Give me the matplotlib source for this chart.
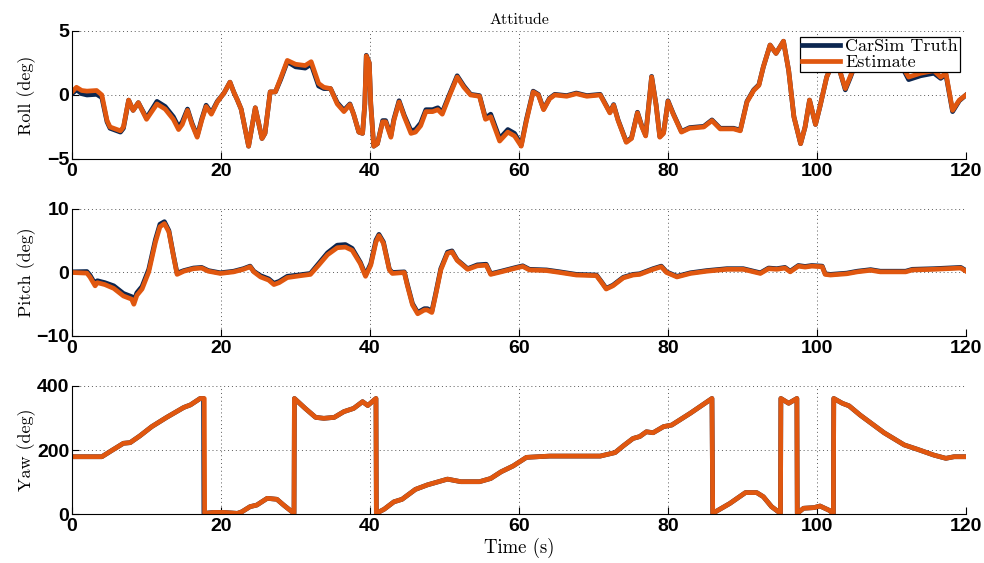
import matplotlib
matplotlib.use('Agg')
import matplotlib.pyplot as plt

# Attitude: roll / pitch / yaw, CarSim truth vs. estimate

TRUTH_COLOR = '#0b2650'
EST_COLOR = '#e0570f'

# Roll (deg)
roll_t = [0, 0.6, 1.3, 2.0, 3.3, 4.0, 4.7, 5.1, 6.5, 6.9, 7.6, 8.2, 8.9, 10.0, 11.4,
          12.5, 13.6, 14.3, 14.8, 15.5, 16.1, 16.8, 17.4, 18.0, 18.7, 19.5, 20.4,
          21.2, 21.7, 22.2, 22.7, 23.7, 24.6, 25.5, 25.9, 26.6, 27.3, 28.0, 28.9,
          30.0, 31.3, 32.1, 33.1, 33.8, 34.7, 35.6, 36.5, 37.3, 37.8, 38.5, 39.0,
          39.3, 39.5, 39.9, 40.1, 40.5, 41.0, 41.7, 42.1, 42.8, 43.2, 43.9, 44.6,
          45.5, 46.1, 46.8, 47.5, 48.4, 49.1, 49.7, 50.6, 51.7, 52.6, 53.5, 54.7,
          55.5, 56.2, 57.4, 58.5, 59.4, 60.3, 61.0, 61.9, 62.6, 63.3, 64.1, 64.8,
          66.4, 67.7, 69.1, 70.9, 72.2, 72.7, 73.3, 74.4, 75.1, 75.9, 76.5, 77.0,
          77.8, 78.4, 78.9, 79.4, 80.0, 80.7, 81.8, 82.9, 84.8, 85.9, 87.0, 88.8,
          89.7, 90.6, 91.5, 92.2, 92.8, 93.7, 94.5, 95.5, 96.2, 96.9, 97.8, 98.4,
          99.0, 99.8, 100.4, 101.3, 102.2, 103.0, 103.8, 104.5, 105.5, 107.0,
          108.5, 110.0, 111.5, 112.3, 113.9, 115.7, 116.6, 117.3, 118.2, 119.1, 120.0]
roll_est = [0.24, 0.6, 0.35, 0.3, 0.35, 0.0, -2.0, -2.5, -2.8, -2.5, -0.4, -1.2, -0.6,
            -1.9, -0.7, -1.1, -1.9, -2.7, -2.3, -1.2, -2.3, -3.3, -2.0, -0.9, -1.5,
            -0.55, 0.15, 1.0, 0.24, -0.4, -1.1, -4.0, -1.0, -3.4, -3.0, 0.24, 0.24,
            1.3, 2.7, 2.4, 2.3, 2.6, 0.9, 0.6, 0.5, -0.7, -1.3, -0.75, -1.5, -2.9,
            -3.0, -0.7, 3.05, 2.5, -0.7, -4.0, -3.8, -2.1, -2.1, -3.3, -2.0, -0.55,
            -1.7, -3.0, -2.9, -2.4, -1.3, -1.3, -1.15, -1.5, -0.15, 1.4, 0.6, 0.0,
            -0.1, -1.9, -1.7, -3.6, -2.9, -3.2, -4.0, -2.0, 0.24, 0.0, -1.15, -0.3,
            0.0, -0.1, 0.1, -0.1, 0.0, -1.4, -0.8, -2.0, -3.7, -3.4, -1.4, -2.5,
            -3.2, 1.4, -0.8, -3.3, -3.0, -0.5, -1.5, -2.9, -2.6, -2.5, -2.0, -2.65,
            -2.65, -2.8, -0.55, 0.35, 0.75, 2.2, 3.9, 3.25, 4.2, 1.9, -1.7, -3.8,
            -2.5, -0.4, -2.3, -0.9, 1.4, 2.6, 2.0, 0.5, 1.5, 3.0, 3.3, 2.6, 3.0, 2.2,
            1.4, 1.7, 1.9, 1.4, 1.7, -1.2, -0.4, 0.0]
roll_truth = [0.1, 0.4, 0.1, 0.0, 0.05, -0.2, -2.1, -2.6, -2.9, -2.6, -0.4, -1.2, -0.6,
              -1.8, -0.5, -0.9, -1.7, -2.5, -2.1, -1.1, -2.2, -3.2, -1.9, -0.8, -1.4,
              -0.5, 0.15, 1.0, 0.24, -0.4, -1.1, -4.0, -1.0, -3.4, -3.0, 0.24, 0.24,
              1.2, 2.6, 2.2, 2.1, 2.4, 0.7, 0.5, 0.5, -0.6, -1.2, -0.7, -1.5, -2.9,
              -3.0, -0.7, 3.1, 2.5, -0.7, -4.0, -3.8, -2.0, -2.0, -3.2, -1.9, -0.45,
              -1.6, -2.8, -2.7, -2.2, -1.15, -1.15, -1.0, -1.35, -0.05, 1.5, 0.7, 0.05,
              -0.05, -1.8, -1.5, -3.4, -2.7, -3.0, -3.9, -1.9, 0.3, 0.05, -1.1, -0.25,
              0.05, -0.05, 0.15, -0.05, 0.05, -1.35, -0.75, -1.95, -3.65, -3.35, -1.35,
              -2.45, -3.15, 1.45, -0.75, -3.25, -2.95, -0.45, -1.45, -2.85, -2.55,
              -2.45, -1.95, -2.6, -2.6, -2.75, -0.5, 0.4, 0.8, 2.2, 3.9, 3.25, 4.2,
              1.9, -1.7, -3.8, -2.5, -0.4, -2.3, -0.9, 1.4, 2.6, 2.0, 0.4, 1.4, 3.0,
              3.3, 2.6, 3.0, 2.1, 1.2, 1.5, 1.7, 1.3, 1.6, -1.3, -0.45, 0.0]

# Pitch (deg)
pitch_t = [0, 2.0, 2.4, 3.1, 3.4, 4.4, 5.6, 6.9, 8.0, 8.3, 8.7, 9.4, 10.3, 11.2, 11.8,
           12.4, 13.0, 13.6, 14.1, 15.0, 16.3, 17.4, 18.3, 19.9, 21.7, 23.0, 23.9,
           24.4, 25.3, 26.4, 27.1, 27.8, 28.9, 30.7, 32.0, 33.1, 34.3, 35.6, 36.7,
           37.6, 38.7, 39.4, 40.1, 40.8, 41.2, 41.8, 42.6, 43.0, 44.6, 45.0, 45.7,
           46.4, 47.3, 47.7, 48.3, 48.8, 49.5, 50.4, 51.0, 51.7, 53.1, 54.4, 55.6,
           56.2, 57.6, 59.6, 60.5, 61.4, 63.7, 65.5, 67.7, 70.4, 71.1, 71.7, 72.6,
           74.0, 75.3, 76.2, 78.0, 79.1, 79.8, 81.2, 83.0, 85.2, 87.9, 90.1, 91.5,
           92.4, 93.5, 94.6, 95.7, 96.4, 97.5, 98.4, 99.3, 100.7, 101.1, 101.8,
           104.0, 105.4, 107.2, 108.5, 111.9, 112.8, 115.7, 119.3, 120.0]
pitch_est = [0.0, -0.1, -0.7, -2.1, -1.6, -1.9, -2.5, -3.7, -4.2, -5.0, -3.6, -2.6, 0.1,
             4.8, 7.2, 7.7, 6.4, 2.7, -0.3, 0.2, 0.6, 0.7, 0.2, -0.15, 0.1, 0.5, 0.9,
             0.1, -0.7, -1.2, -1.9, -1.6, -0.8, -0.5, -0.3, 1.15, 2.8, 3.9, 4.0, 3.5,
             1.4, -0.6, 1.15, 4.8, 5.8, 4.6, 0.4, -0.15, 0.0, -2.0, -5.1, -6.5, -5.9,
             -5.9, -6.3, -3.6, 0.4, 3.0, 3.25, 1.9, 0.5, 1.05, 1.15, -0.3, 0.1, 0.7,
             0.95, 0.4, 0.3, 0.0, -0.4, -0.5, -1.6, -2.6, -2.1, -0.85, -0.4, -0.3, 0.5,
             0.9, 0.0, -0.7, -0.15, 0.2, 0.5, 0.5, 0.1, -0.15, 0.6, 0.5, 0.7, 0.1, 1.0,
             0.85, 1.0, 0.9, -0.3, -0.4, -0.2, 0.1, 0.35, 0.1, 0.1, 0.4, 0.5, 0.7, 0.2]
pitch_truth = [0.1, 0.15, -0.4, -1.8, -1.3, -1.6, -2.1, -3.3, -3.8, -4.5, -3.2, -2.2, 0.5,
               5.2, 7.6, 8.0, 6.6, 2.8, -0.1, 0.3, 0.7, 0.8, 0.3, -0.05, 0.2, 0.6, 1.0,
               0.2, -0.5, -1.0, -1.7, -1.4, -0.6, -0.35, -0.15, 1.4, 3.1, 4.3, 4.4, 3.8,
               1.6, -0.4, 1.4, 5.1, 6.0, 4.8, 0.5, 0.0, 0.1, -1.8, -4.9, -6.3, -5.7,
               -5.7, -6.1, -3.4, 0.6, 3.2, 3.4, 2.0, 0.6, 1.2, 1.3, -0.2, 0.2, 0.8,
               1.05, 0.5, 0.4, 0.1, -0.3, -0.4, -1.5, -2.5, -2.0, -0.75, -0.3, -0.2,
               0.6, 1.0, 0.1, -0.6, -0.05, 0.3, 0.6, 0.6, 0.2, -0.05, 0.7, 0.6, 0.8,
               0.2, 1.1, 0.95, 1.1, 1.0, -0.2, -0.3, -0.1, 0.2, 0.45, 0.2, 0.2, 0.5,
               0.6, 0.8, 0.3]

# Yaw (deg), wrapped to [0, 360)
yaw_t = [0, 4.0, 5.3, 6.9, 7.8, 9.1, 10.7, 12.7, 15.0, 15.9, 17.2, 17.75, 17.8, 19.0,
         20.4, 22.2, 22.8, 23.9, 24.8, 26.2, 27.5, 28.4, 29.8, 29.85, 31.3, 32.7,
         33.8, 35.2, 36.5, 37.8, 39.0, 39.7, 40.8, 40.85, 41.9, 43.2, 44.3, 46.1,
         47.7, 50.4, 52.2, 54.7, 56.2, 57.6, 59.2, 61.0, 64.1, 70.9, 72.9, 74.0,
         75.3, 76.2, 77.1, 78.0, 79.4, 80.5, 83.0, 85.9, 86.0, 88.3, 90.4, 91.9,
         92.8, 93.9, 95.1, 95.15, 96.2, 97.3, 97.35, 98.2, 99.6, 100.4, 101.6,
         102.2, 102.25, 103.4, 104.3, 105.8, 109.0, 111.7, 113.5, 115.7, 117.3,
         118.4, 120.0]
yaw_est = [179, 179, 198, 221, 223, 244, 273, 302, 333, 341, 361, 361, 2, 5, 5, 2, 7,
           23, 28, 49, 46, 28, 2, 361, 330, 302, 299, 302, 320, 330, 351, 339, 361,
           2, 15, 38, 46, 77, 91, 109, 101, 101, 111, 132, 150, 177, 181, 181, 192,
           213, 236, 242, 257, 254, 273, 278, 315, 361, 2, 33, 67, 67, 54, 23, 2, 361,
           346, 361, 2, 18, 20, 25, 12, 2, 361, 346, 338, 309, 254, 216, 202, 184,
           174, 179, 179]
yaw_truth_t = [0, 4.0, 5.3, 6.9, 7.8, 9.1, 10.7, 12.7, 15.0, 15.9, 17.2, 17.65, 17.7,
               19.0, 20.4, 22.2, 22.8, 23.9, 24.8, 26.2, 27.5, 28.4, 29.8, 29.85, 31.3,
               32.7, 33.8, 35.2, 36.5, 37.8, 39.0, 39.7, 40.8, 40.85, 41.9, 43.2, 44.3,
               46.1, 47.7, 50.4, 52.2, 54.7, 56.2, 57.6, 59.2, 61.0, 64.1, 70.9, 72.9,
               74.0, 75.3, 76.2, 77.1, 78.0, 79.4, 80.5, 83.0, 85.9, 86.0, 88.3, 90.4,
               91.9, 92.8, 93.9, 95.1, 95.15, 96.2, 97.3, 97.35, 98.2, 99.6, 100.4,
               101.6, 102.2, 102.25, 103.4, 104.3, 105.8, 109.0, 111.7, 113.5, 115.7,
               117.3, 118.4, 120.0]
yaw_truth = [179, 179, 198, 221, 223, 244, 273, 302, 333, 341, 361, 361, 2, 5, 5, 2, 7,
             23, 28, 49, 46, 28, 2, 361, 330, 302, 299, 302, 320, 330, 351, 339, 361,
             2, 15, 38, 46, 77, 91, 109, 101, 101, 111, 132, 150, 177, 181, 181, 192,
             213, 236, 242, 257, 254, 273, 278, 315, 361, 2, 33, 67, 67, 54, 23, 2, 361,
             346, 361, 2, 18, 20, 25, 12, 2, 361, 346, 338, 309, 254, 216, 202, 184,
             174, 179, 179]

x_ticks = [0, 20, 40, 60, 80, 100, 120]

LABEL_FONT = 'cmr10'
LW = 3.4

# bold sans for the tick numbers, serif for the text labels
plt.rcParams['font.family'] = 'Liberation Sans'
plt.rcParams['font.weight'] = 'bold'
plt.rcParams['font.size'] = 14

fig = plt.figure(figsize=(9.84, 5.63), dpi=100)
ax_roll = fig.add_axes([0.0732, 0.7176, 0.9085, 0.2274])
ax_pitch = fig.add_axes([0.0732, 0.4032, 0.9085, 0.2256])
ax_yaw = fig.add_axes([0.0732, 0.0870, 0.9085, 0.2274])

panels = [
    (ax_roll, roll_t, roll_truth, roll_t, roll_est, (-5, 5), [-5, 0, 5], 'Roll (deg)'),
    (ax_pitch, pitch_t, pitch_truth, pitch_t, pitch_est, (-10, 10), [-10, 0, 10], 'Pitch (deg)'),
    (ax_yaw, yaw_truth_t, yaw_truth, yaw_t, yaw_est, (0, 400), [0, 200, 400], 'Yaw (deg)'),
]

for ax, tt, truth, te, est, ylim, yticks, ylabel in panels:
    ax.plot(tt, truth, color=TRUTH_COLOR, lw=LW, solid_joinstyle='round',
            label='CarSim Truth')
    ax.plot(te, est, color=EST_COLOR, lw=LW, solid_joinstyle='round',
            label='Estimate')
    ax.set_xlim(0, 120)
    ax.set_ylim(*ylim)
    ax.set_xticks(x_ticks)
    ax.set_yticks(yticks)
    ax.grid(True, linestyle=(0, (1, 3)), color='0.35', lw=0.7)
    ax.spines['top'].set_visible(False)
    ax.spines['right'].set_visible(False)
    ax.tick_params(direction='in', length=5, width=0.8, labelsize=14)
    ax.tick_params(axis='x', pad=3)
    ax.tick_params(axis='y', pad=2)
    ax.set_ylabel(ylabel, family=LABEL_FONT, fontweight='normal', fontsize=13)
    ax.yaxis.set_label_coords(-0.040, 0.5)

ax_roll.set_title('Attitude', family=LABEL_FONT, fontweight='normal', fontsize=11.5, pad=5)
ax_yaw.set_xlabel('Time (s)', family=LABEL_FONT, fontweight='normal', fontsize=13.5,
                  labelpad=2)

leg = ax_roll.legend(loc='upper right', bbox_to_anchor=(0.993, 0.953),
                     borderaxespad=0, fancybox=False, framealpha=1,
                     edgecolor='black',
                     prop={'family': LABEL_FONT, 'weight': 'normal', 'size': 13},
                     handlelength=2.1, labelspacing=0.0, borderpad=0.1,
                     handletextpad=0.3)
leg.get_frame().set_linewidth(0.9)

fig.savefig('out.png', dpi=100, facecolor='white')
